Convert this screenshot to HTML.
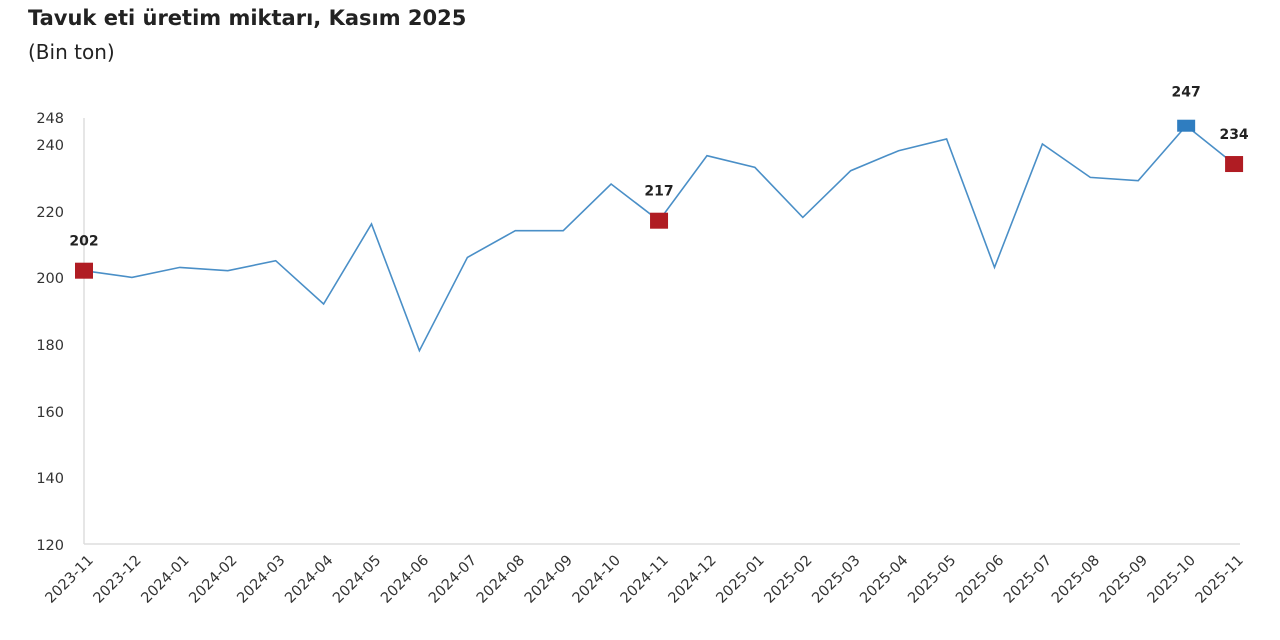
<!DOCTYPE html>
<html><head><meta charset="utf-8"><style>
body{margin:0;background:#fff;}
svg{display:block;font-family:"DejaVu Sans","Liberation Sans",sans-serif;}
</style></head><body>
<svg width="1280" height="640" viewBox="0 0 1280 640" xmlns="http://www.w3.org/2000/svg">
<text x="28" y="25" font-size="21" font-weight="bold" fill="#222">Tavuk eti üretim miktarı, Kasım 2025</text>
<text x="28" y="59" font-size="20" fill="#222">(Bin ton)</text>
<line x1="84" y1="118" x2="84" y2="544" stroke="#ddd" stroke-width="1.5"/>
<line x1="84" y1="544" x2="1240" y2="544" stroke="#ddd" stroke-width="1.5"/>
<g font-size="14.5" fill="#333" text-anchor="end">
<text x="64" y="123">248</text>
<text x="64" y="150">240</text>
<text x="64" y="217">220</text>
<text x="64" y="283">200</text>
<text x="64" y="350">180</text>
<text x="64" y="417">160</text>
<text x="64" y="483">140</text>
<text x="64" y="550">120</text>
</g>
<g id="xl" font-size="14.5" fill="#333" text-anchor="end"></g>
<polyline id="ln" fill="none" stroke="#4a8fc7" stroke-width="1.6" points=""/>
<g id="mk"></g>
<script>
var labs=["2023-11","2023-12","2024-01","2024-02","2024-03","2024-04","2024-05","2024-06","2024-07","2024-08","2024-09","2024-10","2024-11","2024-12","2025-01","2025-02","2025-03","2025-04","2025-05","2025-06","2025-07","2025-08","2025-09","2025-10","2025-11"];
var v=[202,200,203,202,205,192,216,178,206,214,214,228,217,236.5,233,218,232,238,241.5,203,240,230,229,245.5,234];
var X=function(i){return 84+i*47.92};var Y=function(d){return 544-(d-120)*3.333};
var pts=v.map(function(d,i){return X(i).toFixed(1)+","+Y(d).toFixed(1)}).join(" ");
document.getElementById("ln").setAttribute("points",pts);
var ns="http://www.w3.org/2000/svg",g=document.getElementById("xl");
labs.forEach(function(l,i){var t=document.createElementNS(ns,"text");var x=X(i)+10,y=561;t.setAttribute("x",x);t.setAttribute("y",y);t.setAttribute("transform","rotate(-45 "+x+" "+y+")");t.textContent=l;g.appendChild(t);});
var m=document.getElementById("mk");
function sq(i,c,w,h,lab,dy){var r=document.createElementNS(ns,"rect");r.setAttribute("x",X(i)-w/2);r.setAttribute("y",Y(v[i])-h/2);r.setAttribute("width",w);r.setAttribute("height",h);r.setAttribute("fill",c);m.appendChild(r);
var t=document.createElementNS(ns,"text");t.setAttribute("x",X(i));t.setAttribute("y",Y(v[i])+dy);t.setAttribute("text-anchor","middle");t.setAttribute("font-size","14");t.setAttribute("font-weight","bold");t.setAttribute("fill","#222");t.textContent=lab;m.appendChild(t);}
sq(0,"#b01c23",18,16,"202",-25);
sq(12,"#b01c23",18,16,"217",-25);
sq(23,"#2f7dc0",18,12,"247",-29);
sq(24,"#b01c23",18,16,"234",-25);
</script>
</svg>
</body></html>
